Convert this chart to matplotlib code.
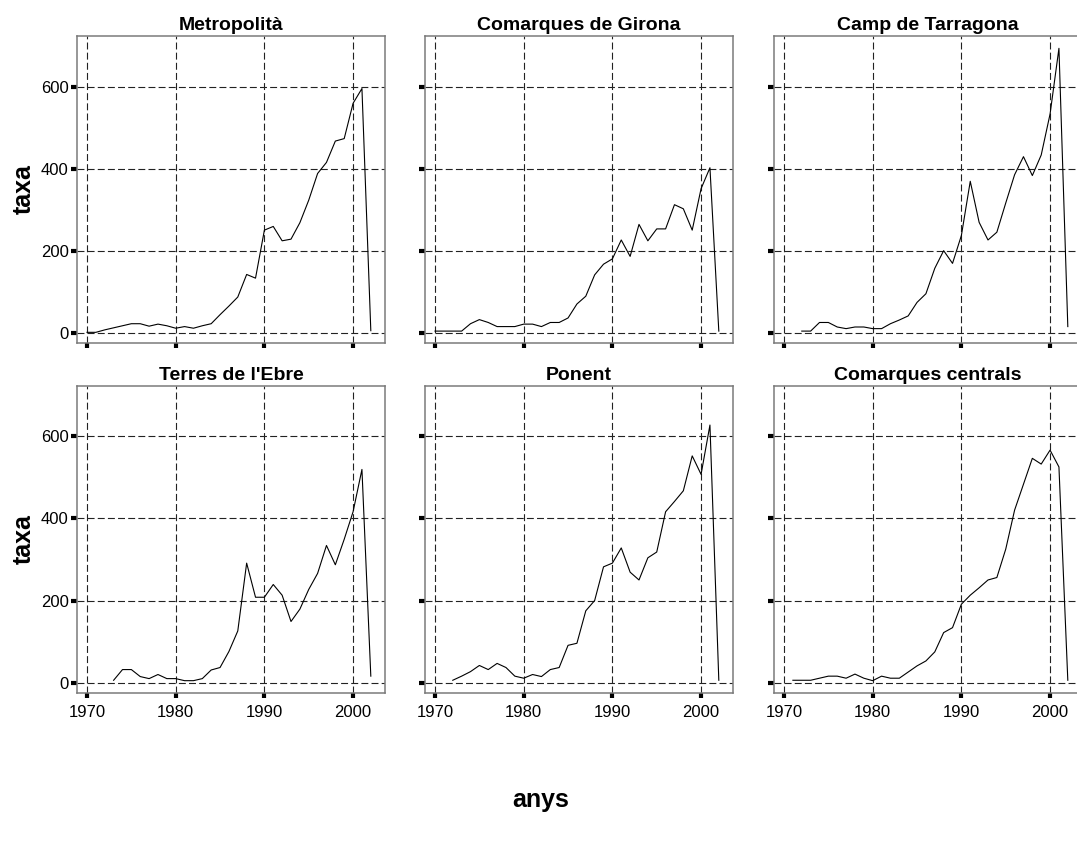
# Small-multiples line chart: taxa per region, 1970-2002
import numpy as np
import matplotlib
matplotlib.use("Agg")
import matplotlib.pyplot as plt

plt.rcParams['font.family'] = ['Liberation Sans', 'DejaVu Sans']
plt.rcParams['lines.scale_dashes'] = False

nan = np.nan

# Data
years = list(range(1970, 2003))

regions = ["Metropolità", "Comarques de Girona", "Camp de Tarragona",
           "Terres de l'Ebre", "Ponent", "Comarques centrals"]

metropolita = [2, 2, 8, 13, 18, 23, 23, 17, 22, 18, 12, 16, 12, 18, 23,
               45, 66, 88, 143, 134, 251, 260, 225, 229, 269, 324, 389,
               416, 468, 474, 560, 596, 6]

girona = [5, 5, 5, 5, 23, 33, 26, 16, 16, 16, 22, 22, 16, 26, 26,
          37, 71, 90, 142, 168, 181, 227, 187, 265, 225, 254, 254,
          313, 303, 251, 352, 403, 5]

tarragona = [nan, nan, 5, 5, 26, 26, 15, 11, 15, 15, 11, 11, 23, 32, 42,
             75, 96, 158, 201, 170, 238, 370, 270, 227, 246, 317, 386,
             430, 384, 434, 534, 694, 16]

ebre = [nan, nan, nan, 6, 32, 32, 15, 10, 20, 10, 10, 5, 5, 10, 31,
        37, 76, 126, 291, 208, 208, 239, 213, 149, 179, 227, 266,
        334, 287, 349, 416, 519, 16]

ponent = [nan, nan, 6, 16, 27, 42, 32, 47, 37, 16, 11, 20, 15, 32, 37,
          91, 96, 175, 200, 282, 291, 328, 269, 250, 304, 318, 416,
          441, 467, 552, 507, 627, 6]

centrals = [nan, 6, 6, 6, 11, 16, 16, 11, 21, 11, 5, 16, 11, 11, 26,
            41, 53, 75, 122, 134, 191, 213, 231, 250, 256, 325, 420,
            483, 546, 532, 566, 525, 6]

series = [metropolita, girona, tarragona, ebre, ponent, centrals]

x_ticks = [1970, 1980, 1990, 2000]
y_ticks = [0, 200, 400, 600]

W, H = 1077, 843
fig = plt.figure(figsize=(W / 100, H / 100), dpi=100)

# panel boxes in pixels (left, top)
col_left = [77, 425, 774]
row_top = [36, 386]
pw, ph = 308, 307

frame_color = '#7a7a7a'
grid_color = '#222222'

for i, (name, vals) in enumerate(zip(regions, series)):
    r, c = divmod(i, 3)
    left = col_left[c] / W
    bottom = 1 - (row_top[r] + ph) / H
    ax = fig.add_axes([left, bottom, pw / W, ph / H])

    ax.set_xlim(1968.87, 2003.6)
    if r == 0:
        ax.set_ylim(-24, 724)
    else:
        ax.set_ylim(-25, 722)

    ax.set_xticks(x_ticks)
    ax.set_yticks(y_ticks)
    ax.grid(True, color=grid_color, linestyle=(0, (5.0, 2.3)), linewidth=0.8)
    ax.set_axisbelow(True)

    ax.plot(years, vals, color='black', linewidth=0.8)

    for sp in ax.spines.values():
        sp.set_color(frame_color)
        sp.set_linewidth(1.1)

    ax.tick_params(axis='x', direction='out', length=3.8, width=3.0,
                   color='black', labelsize=12, pad=5)
    ax.tick_params(axis='y', direction='out', length=4.6, width=3.0,
                   color='black', labelsize=12, pad=1.5)

    if r == 0:
        ax.tick_params(axis='x', labelbottom=False)
    if c != 0:
        ax.tick_params(axis='y', labelleft=False)
    else:
        ax.set_ylabel('taxa', fontsize=18, fontweight='bold', labelpad=3.5)

    ax.set_title(name, fontsize=14, fontweight='bold', pad=4)

fig.text(541 / W, 1 - 800 / H, 'anys', fontsize=18, fontweight='bold',
         ha='center', va='center')

fig.savefig('out.png', dpi=100)
print("saved out.png")
